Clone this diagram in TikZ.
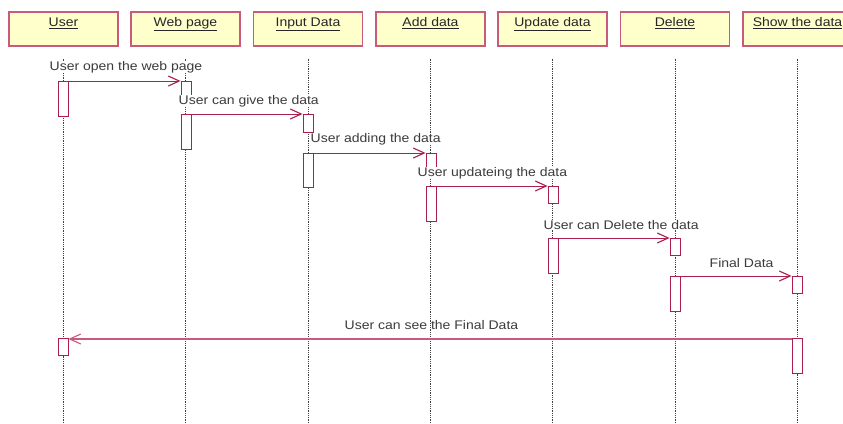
\documentclass[tikz,border=0pt]{standalone}
\usepackage{fontspec}
\setmainfont{Liberation Sans}[FakeStretch=1.12]
\usetikzlibrary{arrows.meta}
\definecolor{crim}{RGB}{170,30,80}
\definecolor{crimlt}{RGB}{200,90,125}
\definecolor{headfill}{RGB}{255,255,204}
\definecolor{txt}{RGB}{60,60,60}
\tikzset{
  headbox/.style={draw=crimlt, line width=1.2pt, fill=headfill, minimum width=109pt, minimum height=34pt, inner sep=0pt},
  headtxt/.style={anchor=north, inner sep=0pt, text=black!85, font=\fontsize{12.5}{14}\selectfont},
  life/.style={draw=black!75, line width=0.5pt, dash pattern=on 1pt off 0.8pt},
  act/.style={draw=crim, line width=0.9pt, fill=white, minimum width=10pt, inner sep=0pt, anchor=north},
  msg/.style={draw=crim, line width=1pt, -{Straight Barb[length=11pt,width=10pt,line width=1.1pt]}},
  msgb/.style={draw=crimlt, line width=2pt, -{Straight Barb[length=11pt,width=10pt,line width=1.1pt]}},
  lbl/.style={anchor=west, inner sep=0.5pt, text=txt, font=\fontsize{12.5}{14}\selectfont},
  lblw/.style={lbl, fill=white},
}
\begin{document}
\begin{tikzpicture}[x=1pt,y=-1pt]
\useasboundingbox (0,0) rectangle (843,423);
\clip (0,0) rectangle (843,423);
% heads
\node[headbox] (h1) at (63.5,29) {};
\node[headbox] (h2) at (185.5,29) {};
\node[headbox] (h3) at (308,29) {};
\node[headbox] (h4) at (430.5,29) {};
\node[headbox] (h5) at (552.5,29) {};
\node[headbox] (h6) at (675,29) {};
\node[headbox] (h7) at (797.5,29) {};
\node[headtxt] (t1) at ([yshift=-6pt]h1.north) {\underline{User}};
\node[headtxt] (t2) at ([yshift=-6pt]h2.north) {\underline{Web page}};
\node[headtxt] (t3) at ([yshift=-6pt]h3.north) {\underline{Input Data}};
\node[headtxt] (t4) at ([yshift=-6pt]h4.north) {\underline{Add data}};
\node[headtxt] (t5) at ([yshift=-6pt]h5.north) {\underline{Update data}};
\node[headtxt] (t6) at ([yshift=-6pt]h6.north) {\underline{Delete}};
\node[headtxt] (t7) at ([yshift=-6pt]h7.north) {\underline{Show the data}};
% lifeline ends
\coordinate (bot) at (0,423);
\foreach \i in {1,...,7}{
  \draw[life] ([yshift=-12pt]h\i.south) -- (h\i.south |- bot);
}
% activations
\node[act, minimum height=35pt] (a1) at (63,81) {};
\node[act, minimum height=17pt] (a2) at (186,81) {};
\node[act, minimum height=35pt] (a3) at (186,114) {};
\node[act, minimum height=18pt] (a4) at (308,114) {};
\node[act, minimum height=34pt] (a5) at (308,153) {};
\node[act, minimum height=17pt] (a6) at (431,153) {};
\node[act, minimum height=35pt] (a7) at (431,186) {};
\node[act, minimum height=17pt] (a8) at (553,186) {};
\node[act, minimum height=35pt] (a9) at (553,238) {};
\node[act, minimum height=17pt] (a10) at (675,238) {};
\node[act, minimum height=35pt] (a11) at (675,276) {};
\node[act, minimum height=17pt] (a12) at (797,276) {};
\node[act, minimum height=35pt] (a13) at (797,338) {};
\node[act, minimum height=17pt] (a14) at (63,338) {};
% messages
\draw[msg] (a1.north east) -- (a2.north west);
\draw[msg] (a3.north east) -- (a4.north west);
\draw[msg] (a5.north east) -- (a6.north west);
\draw[msg] (a7.north east) -- (a8.north west);
\draw[msg] (a9.north east) -- (a10.north west);
\draw[msg] (a11.north east) -- (a12.north west);
\draw[msgb] ([yshift=-1pt]a13.north west) -- ([yshift=-1pt]a14.north east);
% labels
\node[lblw] (l1) at (49,67) {User open the web page};
\node[lblw] (l2) at (178,101) {User can give the data};
\node[lblw] (l3) at (310,139) {User adding the data};
\node[lblw] (l4) at (417,173) {User updateing the data};
\node[lblw] (l5) at (543,225) {User can Delete the data};
\node[lblw] (l6) at (709,263) {Final Data};
\node[lbl] (l7) at (344,325) {User can see the Final Data};
\end{tikzpicture}
\end{document}
